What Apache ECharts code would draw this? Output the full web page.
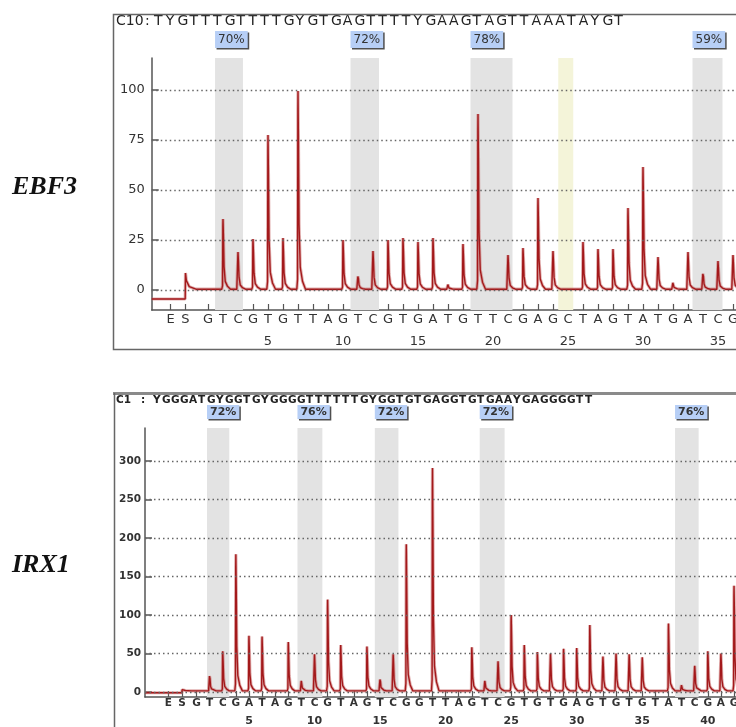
<!DOCTYPE html>
<html><head><meta charset="utf-8">
<script src="https://cdn.jsdelivr.net/npm/echarts@6/dist/echarts.min.js"></script>
<style>html,body{margin:0;padding:0;background:#fff}#c{width:736px;height:727px}</style>
</head><body><div id="c"></div>
<script>
// ---------------- data ----------------
const geneLabels = ['EBF3', 'IRX1'];

// EBF3 panel
const ebf3Sample = 'C10';
const ebf3Seq = 'TYGTTTGTTTTGYGTGAGTTTTYGAAGTAGTTAAATAYGT';
const ebf3ES = [-1.5, -0.5];            // positions of E and S
const ebf3Disp = ['G','T','C','G','T','G','T','T','A','G','T','C','G','T','G','A','T','G','T','T','C','G','A','G','C','T','A','G','T','A','T','G','A','T','C','G'];
const ebf3Peaks = [0,35.5,19,25.5,77.5,26,99.5,0,0,25,7.5,19.5,25,26,24,26,3,23,88,0,17.5,21,46,19.5,0,24,20.5,20.5,41,61.5,16.5,4,19,9,14.5,17.5];
const ebf3SPeak = 8.5;
const ebf3PreBase = -4.5;
const ebf3Base = 0.4;
const ebf3YTicks = [0, 25, 50, 75, 100];
const ebf3Numbers = [5, 10, 15, 20, 25, 30, 35];
const ebf3Bands = [[1.47, 3.33, '70%'], [10.5, 12.4, '72%'], [18.5, 21.3, '78%'], [33.3, 35.3, '59%']];
const ebf3Yellow = [[24.35, 25.35]];

// IRX1 panel
const irx1Sample = 'C1';
const irx1Seq = 'YGGGATGYGGTGYGGGGTTTTTTGYGGTGTGAGGTGTGAAYGAGGGGTT';
const irx1ES = [-1.15, -0.1];
const irx1Disp = ['G','T','C','G','A','T','A','G','T','C','G','T','A','G','T','C','G','G','T','T','A','G','T','C','G','T','G','T','G','A','G','T','G','T','G','T','A','T','C','G','A','G'];
const irx1Peaks = [0,23,53,179,73,72,0,65,16,49,120,61,0,59,18,49,192,0,291,0,0,58,16,40,100,61,52,50,56,57,87,46,50,49,45,0,89,10,34,53,50,138];
const irx1SPeak = 3;
const irx1PreBase = -1;
const irx1Base = 1.5;
const irx1YTicks = [0, 50, 100, 150, 200, 250, 300];
const irx1Numbers = [5, 10, 15, 20, 25, 30, 35, 40];
const irx1Bands = [[1.8, 3.5, '72%'], [8.7, 10.6, '76%'], [14.6, 16.4, '72%'], [22.6, 24.5, '72%'], [37.5, 39.3, '76%']];

// ---------------- helpers ----------------
const FONT = '"DejaVu Sans", Verdana, sans-serif';
const TRACE = '#a3191b';

function traceData(es, sPeak, pre, base, peaks, xmin, xmax) {
  const s = es[1];
  const pts = [[xmin, pre], [s - 0.02, pre], [s, sPeak], [s + 0.06, sPeak * 0.55], [s + 0.25, base + sPeak * 0.15], [s + 0.7, base]];
  peaks.forEach((h, i) => {
    const p = i + 1;
    if (h <= 0) return;
    pts.push([p - 0.08, base], [p - 0.03, base + h * 0.05], [p - 0.01, h * 0.9], [p, h],
             [p + 0.03, h * 0.75], [p + 0.07, h * 0.33], [p + 0.15, h * 0.11 + base], [p + 0.3, h * 0.04 + base], [p + 0.5, base]);
  });
  pts.push([xmax, base]);
  return pts;
}

function letterAxis(gi, xmin, xmax, es, disp, fs, weight, margin) {
  const pos = es.concat(disp.map((_, i) => i + 1));
  const letters = ['E', 'S'].concat(disp);
  const map = {};
  pos.forEach((p, i) => { map[p.toFixed(2)] = letters[i]; });
  return {
    gridIndex: gi, type: 'value', min: xmin, max: xmax, position: 'bottom',
    axisLine: { show: true, onZero: false, lineStyle: { color: '#555', width: 1.5 } },
    axisTick: { show: true, inside: true, length: 6, customValues: pos, lineStyle: { color: '#555', width: 1.2 } },
    axisLabel: { customValues: pos, formatter: v => map[Number(v).toFixed(2)] || '', fontSize: fs, fontWeight: weight, color: '#333', margin: margin, fontFamily: FONT },
    splitLine: { show: false }
  };
}
function numberAxis(gi, xmin, xmax, nums, fs, weight, offset) {
  return {
    gridIndex: gi, type: 'value', min: xmin, max: xmax, position: 'bottom', offset: offset,
    axisLine: { show: false, onZero: false }, axisTick: { show: false },
    axisLabel: { customValues: nums, fontSize: fs, fontWeight: weight, color: '#333', margin: 0, fontFamily: FONT },
    splitLine: { show: false }
  };
}
function yAxisOf(gi, ymin, ymax, ticks, fs, weight, margin) {
  return {
    gridIndex: gi, type: 'value', min: ymin, max: ymax,
    axisLine: { show: true, onZero: false, lineStyle: { color: '#555', width: 1.5 } },
    axisTick: { show: true, inside: true, length: 7, customValues: ticks, lineStyle: { color: '#555', width: 1.5 } },
    axisLabel: { customValues: ticks, fontSize: fs, fontWeight: weight, color: '#333', margin: margin, fontFamily: FONT },
    splitLine: { show: false }
  };
}
function decorSeries(xi, yi, bands, yellow, ticks, lab) {
  const areas = bands.map(b => [{ xAxis: b[0], name: b[2] }, { xAxis: b[1] }]);
  const yAreas = (yellow || []).map(b => [{ xAxis: b[0], name: '', itemStyle: { color: '#f4f4d9' }, label: { show: false } }, { xAxis: b[1] }]);
  return {
    type: 'line', xAxisIndex: xi, yAxisIndex: yi, data: [], clip: false, z: 1, silent: true,
    markArea: {
      silent: true,
      itemStyle: { color: '#e3e3e3' },
      label: {
        show: true, position: lab.position, formatter: '{b}', color: '#333', fontFamily: FONT,
        fontSize: lab.fs, fontWeight: lab.weight, backgroundColor: '#b7cff6', padding: lab.padding,
        shadowColor: 'rgba(70,70,70,0.95)', shadowOffsetX: 1.5, shadowOffsetY: 1.5, shadowBlur: 0
      },
      data: areas.concat(yAreas)
    },
    markLine: {
      silent: true, symbol: ['none', 'none'], animation: false,
      label: { show: false },
      lineStyle: { type: [1.5, 3], color: '#666', width: 1.3 },
      data: ticks.map(v => ({ yAxis: v }))
    }
  };
}
function traceSeries(xi, yi, data) {
  return [
    { type: 'line', xAxisIndex: xi, yAxisIndex: yi, z: 2, symbol: 'none', silent: true,
      lineStyle: { color: 'rgba(200,110,110,0.55)', width: 3.2 }, data: data },
    { type: 'line', xAxisIndex: xi, yAxisIndex: yi, z: 3, symbol: 'none', silent: true,
      lineStyle: { color: TRACE, width: 1.4 }, data: data }
  ];
}

// grid geometry (right edge of each plot sits on the page edge)
const g0 = { left: 151.75, top: 58, width: 584.25, height: 252, xmin: -2.75, xmax: 36.2, ymin: -10, ymax: 116 };
const g1 = { left: 145, top: 428, width: 591, height: 269, xmin: -2.93, xmax: 42.15, ymin: -6.5, ymax: 343 };

// header text (one text per character, spaced like the instrument print-out)
const graphics = [];
function header(sample, seq, y, colonX, x0, step, fs, weight) {
  graphics.push({ type: 'text', x: 116, y: y, style: { text: sample, font: `${weight} ${fs}px ${FONT}`, fill: '#222', verticalAlign: 'middle' } });
  graphics.push({ type: 'text', x: colonX, y: y, style: { text: ':', font: `${weight} ${fs}px ${FONT}`, fill: '#222', verticalAlign: 'middle' } });
  seq.split('').forEach((ch, i) => {
    graphics.push({ type: 'text', x: x0 + i * step, y: y, style: { text: ch, font: `${weight} ${fs}px ${FONT}`, fill: '#222', verticalAlign: 'middle', align: 'left' } });
  });
}
header(ebf3Sample, ebf3Seq, 21, 145, 154, 11.8, 14, 'normal');
header(irx1Sample, irx1Seq, 400, 141, 153, 9.0, 10.5, 'bold');

// frames
graphics.push({ type: 'rect', shape: { x: 113.5, y: 14.5, width: 700, height: 335 }, style: { fill: 'none', stroke: '#666', lineWidth: 1.5 }, z: 0 });
graphics.push({ type: 'line', shape: { x1: 113, y1: 393.5, x2: 740, y2: 393.5 }, style: { stroke: '#8a8a8a', lineWidth: 3 } });
graphics.push({ type: 'line', shape: { x1: 114.5, y1: 393, x2: 114.5, y2: 730 }, style: { stroke: '#666', lineWidth: 1.5 } });

// gene labels
graphics.push({ type: 'text', x: 12, y: 187, style: { text: geneLabels[0], font: 'italic bold 26px "Liberation Serif", "Times New Roman", serif', fill: '#111', verticalAlign: 'middle' } });
graphics.push({ type: 'text', x: 12, y: 565, style: { text: geneLabels[1], font: 'italic bold 26px "Liberation Serif", "Times New Roman", serif', fill: '#111', verticalAlign: 'middle' } });

const option = {
  animation: false,
  backgroundColor: '#fff',
  grid: [
    { left: g0.left, top: g0.top, width: g0.width, height: g0.height, containLabel: false, outerBoundsMode: 'none' },
    { left: g1.left, top: g1.top, width: g1.width, height: g1.height, containLabel: false, outerBoundsMode: 'none' }
  ],
  xAxis: [
    letterAxis(0, g0.xmin, g0.xmax, ebf3ES, ebf3Disp, 13, 'normal', 3),
    numberAxis(0, g0.xmin, g0.xmax, ebf3Numbers, 13, 'normal', 25),
    letterAxis(1, g1.xmin, g1.xmax, irx1ES, irx1Disp, 10.5, 'bold', 1),
    numberAxis(1, g1.xmin, g1.xmax, irx1Numbers, 11, 'bold', 19)
  ],
  yAxis: [
    yAxisOf(0, g0.ymin, g0.ymax, ebf3YTicks, 13, 'normal', 7),
    yAxisOf(1, g1.ymin, g1.ymax, irx1YTicks, 10.5, 'bold', 4)
  ],
  series: [
    decorSeries(0, 0, ebf3Bands, ebf3Yellow, ebf3YTicks, { position: [0, -27], fs: 12, weight: 'normal', padding: [3, 3, 2, 3] }),
    decorSeries(2, 1, irx1Bands, null, irx1YTicks, { position: [0, -23], fs: 11, weight: 'bold', padding: [2, 3, 1, 3] })
  ].concat(
    traceSeries(0, 0, traceData(ebf3ES, ebf3SPeak, ebf3PreBase, ebf3Base, ebf3Peaks, g0.xmin, g0.xmax)),
    traceSeries(2, 1, traceData(irx1ES, irx1SPeak, irx1PreBase, irx1Base, irx1Peaks, g1.xmin, g1.xmax))
  ),
  graphic: graphics
};

const chart = echarts.init(document.getElementById('c'), null, { renderer: 'canvas', width: 736, height: 727 });
chart.setOption(option);
</script>
</body></html>
